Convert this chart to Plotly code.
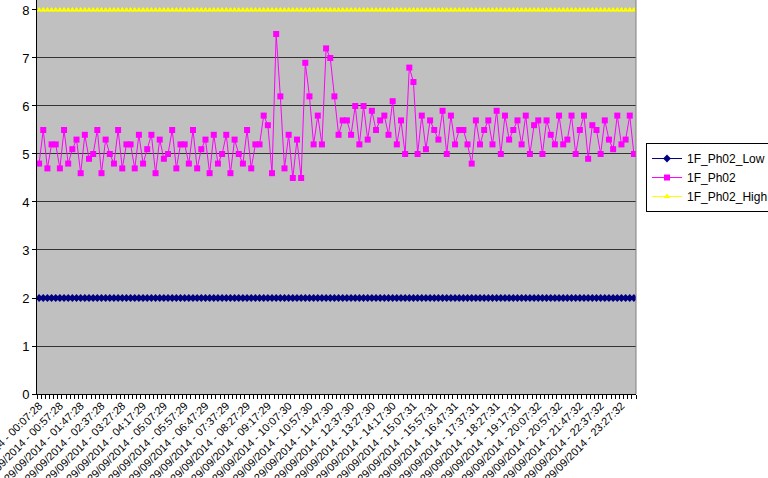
import plotly.graph_objects as go

# 10-minute samples, 29/09/2014, one every category (144 in total)
ph02 = [4.8, 5.5, 4.7, 5.2, 5.2, 4.7, 5.5, 4.8, 5.1, 5.3, 4.6, 5.4, 4.9, 5.0, 5.5, 4.6, 5.3, 5.0,
        4.8, 5.5, 4.7, 5.2, 5.2, 4.7, 5.4, 4.8, 5.1, 5.4, 4.6, 5.3, 4.9, 5.0, 5.5, 4.7, 5.2, 5.2,
        4.8, 5.5, 4.7, 5.1, 5.3, 4.6, 5.4, 4.8, 5.0, 5.4, 4.6, 5.3, 5.0, 4.8, 5.5, 4.7, 5.2, 5.2,
        5.8, 5.6, 4.6, 7.5, 6.2, 4.7, 5.4, 4.5, 5.3, 4.5, 6.9, 6.2, 5.2, 5.8, 5.2, 7.2, 7.0, 6.2,
        5.4, 5.7, 5.7, 5.4, 6.0, 5.2, 6.0, 5.3, 5.9, 5.5, 5.7, 5.8, 5.4, 6.1, 5.2, 5.7, 5.0, 6.8,
        6.5, 5.0, 5.8, 5.1, 5.7, 5.5, 5.3, 5.9, 5.0, 5.8, 5.2, 5.5, 5.5, 5.2, 4.8, 5.7, 5.2, 5.5,
        5.7, 5.2, 5.9, 5.0, 5.8, 5.3, 5.5, 5.7, 5.2, 5.8, 5.0, 5.6, 5.7, 5.0, 5.7, 5.4, 5.2, 5.8,
        5.2, 5.3, 5.8, 5.0, 5.5, 5.8, 4.9, 5.6, 5.5, 5.0, 5.7, 5.3, 5.1, 5.8, 5.2, 5.3, 5.8, 5.0]

# limits are flat for the whole day
ph02_low = [2.0] * 144
ph02_high = [8.0] * 144

# every 5th category is labelled
tick_labels = [
    '29/09/2014 - 00:07:28', '29/09/2014 - 00:57:28', '29/09/2014 - 01:47:28',
    '29/09/2014 - 02:37:28', '29/09/2014 - 03:27:28', '29/09/2014 - 04:17:29',
    '29/09/2014 - 05:07:29', '29/09/2014 - 05:57:29', '29/09/2014 - 06:47:29',
    '29/09/2014 - 07:37:29', '29/09/2014 - 08:27:29', '29/09/2014 - 09:17:29',
    '29/09/2014 - 10:07:30', '29/09/2014 - 10:57:30', '29/09/2014 - 11:47:30',
    '29/09/2014 - 12:37:30', '29/09/2014 - 13:27:30', '29/09/2014 - 14:17:30',
    '29/09/2014 - 15:07:31', '29/09/2014 - 15:57:31', '29/09/2014 - 16:47:31',
    '29/09/2014 - 17:37:31', '29/09/2014 - 18:27:31', '29/09/2014 - 19:17:31',
    '29/09/2014 - 20:07:32', '29/09/2014 - 20:57:32', '29/09/2014 - 21:47:32',
    '29/09/2014 - 22:37:32', '29/09/2014 - 23:27:32']
label_step = 5

x = list(range(len(ph02)))
tick_vals = x[::label_step]

fig = go.Figure()
fig.add_trace(go.Scatter(x=x, y=ph02_low, name='1F_Ph02_Low', mode='lines+markers',
                         line=dict(color='#000080', width=1),
                         marker=dict(symbol='diamond', size=6, color='#000080')))
fig.add_trace(go.Scatter(x=x, y=ph02, name='1F_Ph02', mode='lines+markers',
                         line=dict(color='#FF00FF', width=1),
                         marker=dict(symbol='square', size=6, color='#FF00FF')))
fig.add_trace(go.Scatter(x=x, y=ph02_high, name='1F_Ph02_High', mode='lines+markers',
                         line=dict(color='#FFFF00', width=1),
                         marker=dict(symbol='triangle-up', size=6, color='#FFFF00')))

fig.update_layout(
    width=768, height=478,
    margin=dict(l=37, r=132, t=0, b=84, autoexpand=False),
    paper_bgcolor='white', plot_bgcolor='#C0C0C0',
    font=dict(family='Liberation Sans, Arial, sans-serif', color='black'),
    showlegend=True,
    legend=dict(x=1.0167, y=0.637, xanchor='left', yanchor='top',
                bgcolor='white', bordercolor='black', borderwidth=1,
                font=dict(size=12)),
    xaxis=dict(range=[-0.5, len(ph02) - 0.5], tickmode='array', tickvals=tick_vals,
               ticktext=tick_labels, tickangle=-45, tickfont=dict(size=11),
               ticklabeloverflow='allow', automargin=False,
               ticks='', showgrid=False, zeroline=False,
               showline=True, linecolor='black', linewidth=1,
               minor=dict(ticks='outside', tick0=-0.5, dtick=1, ticklen=4,
                          tickcolor='black', showgrid=False)),
    # top of the plot sits a little above 8, as in the original crop
    yaxis=dict(range=[0, 8.208], tickmode='linear', tick0=0, dtick=1, automargin=False,
               ticklabeloverflow='allow',
               tickfont=dict(size=13), ticks='outside', ticklen=4, tickcolor='black',
               showgrid=True, gridcolor='#333333', gridwidth=1, zeroline=False,
               showline=True, linecolor='black', linewidth=1),
)

# grey right edge of the plot area
fig.add_shape(type='line', xref='paper', yref='paper', x0=1, x1=1, y0=0, y1=1,
              line=dict(color='#808080', width=1))

# drop the browser's default 8px body margin so the figure sits at the page corner
fig.write_html('out.html', config={'displayModeBar': False},
               post_script="document.body.style.margin = '0';")
